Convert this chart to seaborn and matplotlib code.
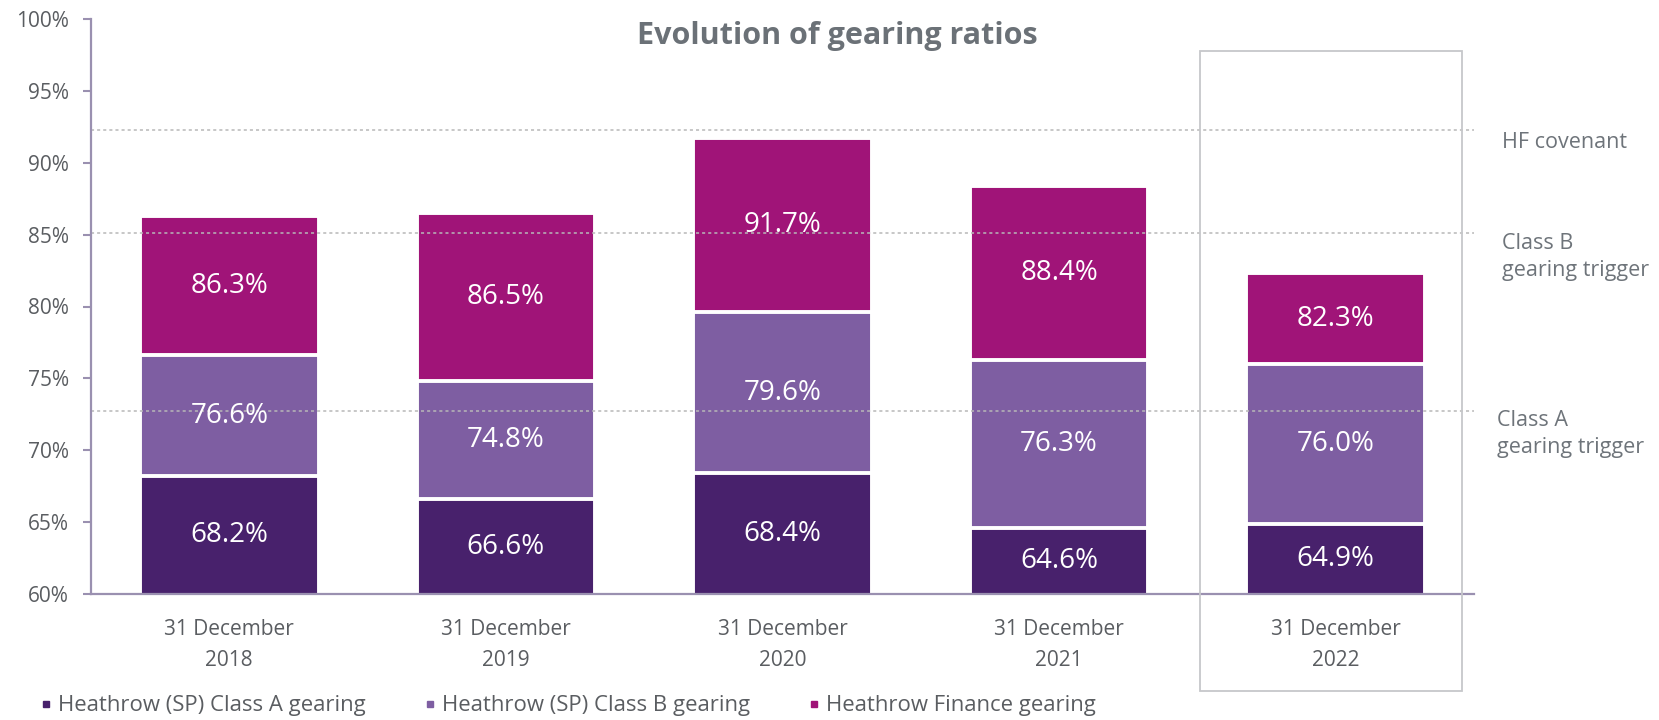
import matplotlib
matplotlib.use("Agg")
import matplotlib.pyplot as plt
from matplotlib.lines import Line2D
from matplotlib.patches import Rectangle
import numpy as np
import pandas as pd
import seaborn as sns

# values
periods = ["31 December\n2018", "31 December\n2019", "31 December\n2020",
           "31 December\n2021", "31 December\n2022"]
class_a = [68.2, 66.6, 68.4, 64.6, 64.9]
class_b = [76.6, 74.8, 79.6, 76.3, 76.0]
hf_gearing = [86.3, 86.5, 91.7, 88.4, 82.3]

series_names = ["Heathrow (SP) Class A gearing", "Heathrow (SP) Class B gearing",
                "Heathrow Finance gearing"]
series_colors = ["#48216c", "#7e5ea2", "#a01478"]

thresholds = [92.3, 85.1, 72.7]
threshold_labels = ["HF covenant", "Class B\ngearing trigger", "Class A\ngearing trigger"]

y_ticks = [60, 65, 70, 75, 80, 85, 90, 95, 100]

TEXT = "#5a5d61"
LIGHT_TEXT = "#6e747a"
SPINE = "#9a90b0"

sns.set_style("white")
plt.rcParams["font.family"] = ["Open Sans", "DejaVu Sans"]

df = pd.DataFrame({
    "period": periods * 3,
    "series": [series_names[0]] * 5 + [series_names[1]] * 5 + [series_names[2]] * 5,
    "value": class_a + class_b + hf_gearing,
})

fig = plt.figure(figsize=(16.59, 7.2), dpi=100)
ax = fig.add_axes([91 / 1659, 1 - 594 / 720, (1474 - 91) / 1659, (594 - 19) / 720])

# overlapping bars, tallest first so the smaller ones sit on top
sns.barplot(data=df, x="period", y="value", hue="series",
            hue_order=series_names[::-1], palette=series_colors[::-1],
            order=periods, dodge=False, width=0.645, saturation=1,
            edgecolor="white", linewidth=2.8, legend=False, ax=ax)

ax.set_ylim(60, 100)
ax.set_xlim(-0.5, len(periods) - 0.5)
ax.set_yticks(y_ticks)
ax.set_yticklabels([f"{v}%" for v in y_ticks], fontsize=15, color=TEXT)
ax.set_xticks(np.arange(-0.5, len(periods), 1))
ax.set_xticklabels([])
ax.set_xticks(np.arange(len(periods)), minor=True)
ax.set_xticklabels(periods, minor=True, fontsize=15, color=TEXT, linespacing=1.62)
ax.tick_params(axis="x", which="major", length=6, width=1.5, color=SPINE, direction="out")
ax.tick_params(axis="x", which="minor", length=0, pad=18)
ax.tick_params(axis="y", length=6, width=1.5, color=SPINE, direction="out", pad=10, left=True)
ax.set_xlabel("")
ax.set_ylabel("")
for side in ["top", "right"]:
    ax.spines[side].set_visible(False)
for side in ["left", "bottom"]:
    ax.spines[side].set_color(SPINE)
    ax.spines[side].set_linewidth(1.6)
    ax.spines[side].set_zorder(5)

for t in thresholds:
    ax.axhline(t, color="#b8b8b8", lw=1.1, ls=(0, (2, 2)), zorder=3)

# segment labels at the middle of each stacked block
for i in range(len(periods)):
    bounds = [60, class_a[i], class_b[i], hf_gearing[i]]
    for k in range(3):
        mid = (bounds[k] + bounds[k + 1]) / 2
        ax.text(i, mid, f"{bounds[k + 1]:.1f}%", ha="center", va="center",
                color="white", fontsize=20, zorder=4)

fig.text(0.5045, 1 - 36 / 720, "Evolution of gearing ratios", ha="center", va="center",
         fontsize=22, fontweight="bold", color="#6b7177")

fig.text(1502 / 1659, 1 - 142 / 720, threshold_labels[0], ha="left", va="center",
         fontsize=15.5, color=LIGHT_TEXT)
fig.text(1502 / 1659, 1 - 257 / 720, threshold_labels[1], ha="left", va="center",
         fontsize=15.5, color=LIGHT_TEXT, linespacing=1.38)
fig.text(1497 / 1659, 1 - 434 / 720, threshold_labels[2], ha="left", va="center",
         fontsize=15.5, color=LIGHT_TEXT, linespacing=1.38)

# frame highlighting the latest period
fig.add_artist(Rectangle((1200 / 1659, 1 - 691 / 720), 262 / 1659, 640 / 720,
                         transform=fig.transFigure, fill=False,
                         edgecolor="#c6c7ca", lw=1.3))

handles = [Line2D([], [], marker="s", linestyle="", markersize=5,
                  markerfacecolor=c, markeredgecolor=c) for c in series_colors]
fig.legend(handles, series_names, ncol=3, loc="center left",
           bbox_to_anchor=(38 / 1659, 1 - 706 / 720), frameon=False,
           fontsize=15.9, labelcolor=TEXT, handlelength=0.7, handletextpad=0.2,
           columnspacing=2.55, borderpad=0, borderaxespad=0)

fig.savefig("out.png", dpi=100)
